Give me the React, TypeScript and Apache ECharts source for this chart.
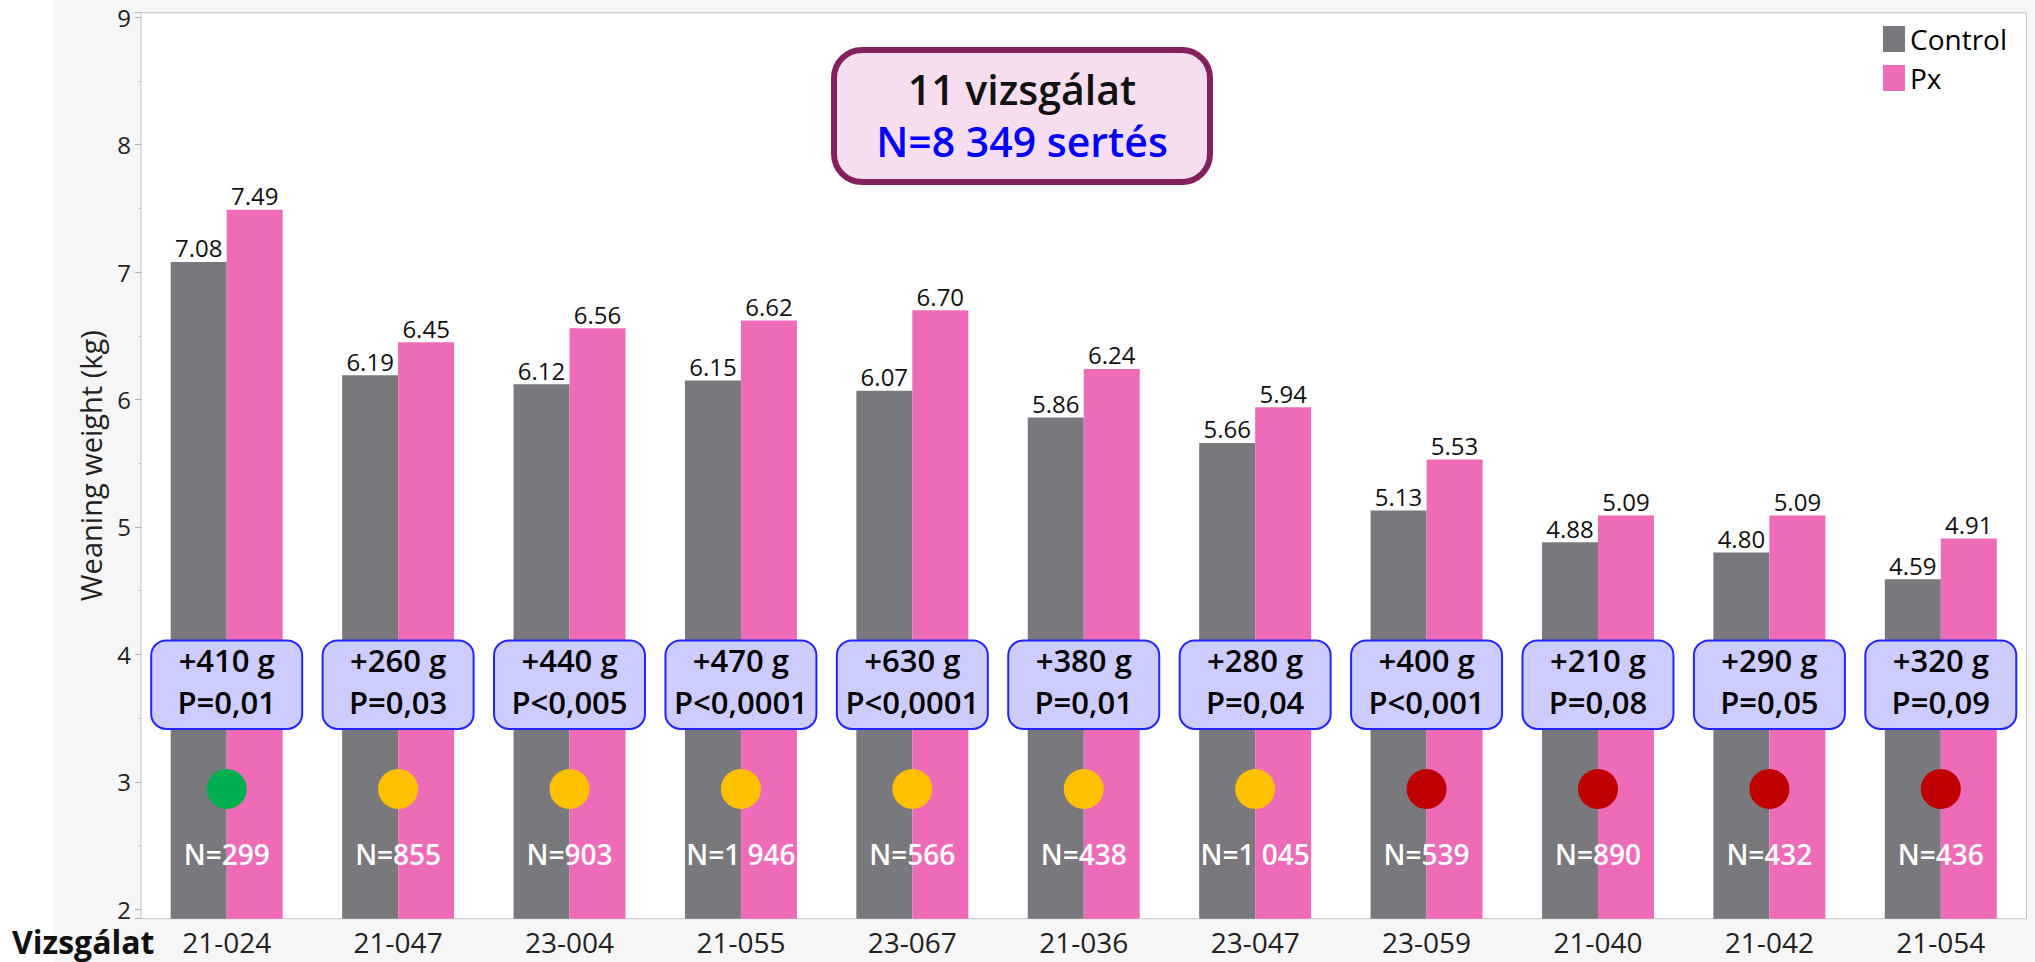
import React, { useEffect, useRef } from 'react';
import * as echarts from 'echarts';

const categories = ['21-024', '21-047', '23-004', '21-055', '23-067', '21-036', '23-047', '23-059', '21-040', '21-042', '21-054'];
const controlValues = [7.08, 6.19, 6.12, 6.15, 6.07, 5.86, 5.66, 5.13, 4.88, 4.80, 4.59];
const pxValues = [7.49, 6.45, 6.56, 6.62, 6.70, 6.24, 5.94, 5.53, 5.09, 5.09, 4.91];
const gainLabels = ['+410 g', '+260 g', '+440 g', '+470 g', '+630 g', '+380 g', '+280 g', '+400 g', '+210 g', '+290 g', '+320 g'];
const pLabels = ['P=0,01', 'P=0,03', 'P<0,005', 'P<0,0001', 'P<0,0001', 'P=0,01', 'P=0,04', 'P<0,001', 'P=0,08', 'P=0,05', 'P=0,09'];
const GREEN = '#00b050';
const AMBER = '#ffc000';
const RED = '#c00000';
const dotColors = [GREEN, AMBER, AMBER, AMBER, AMBER, AMBER, AMBER, RED, RED, RED, RED];
const nLabels = ['N=299', 'N=855', 'N=903', 'N=1 946', 'N=566', 'N=438', 'N=1 045', 'N=539', 'N=890', 'N=432', 'N=436'];
const seriesNames = ['Control', 'Px'];
const summaryLines = ['11 vizsgálat', 'N=8 349 sertés'];
const yAxisTitle = 'Weaning weight (kg)';
const xAxisTitle = 'Vizsgálat';

// layout constants (value space)
const Y_MIN = 1.926;
const Y_MAX = 9.036;
const BOX_TOP = 4.11;
const BOX_BOTTOM = 3.415;
const DOT_Y = 2.944;
const N_Y = 2.43;

const FONT = '"Open Sans", "Noto Sans", sans-serif';

export default function App() {
  const ref = useRef<HTMLDivElement>(null);
  useEffect(() => {
    const chart = echarts.init(ref.current as HTMLDivElement, null, { renderer: 'svg' });
    const valueLabel = {
      show: true,
      position: 'top',
      distance: 2,
      fontSize: 24,
      color: '#111',
      fontFamily: FONT,
      formatter: (p: any) => Number(p.value).toFixed(2),
    };
    const option: any = {
      animation: false,
      backgroundColor: '#f6f6f6',
      textStyle: { fontFamily: FONT },
      grid: {
        left: 141,
        right: 8.5,
        top: 12.7,
        bottom: 43.3,
        show: true,
        backgroundColor: '#ffffff',
        borderColor: '#c4c4c4',
        borderWidth: 1,
      },
      legend: {
        data: seriesNames,
        orient: 'vertical',
        left: 1878,
        top: 20,
        icon: 'rect',
        itemWidth: 22,
        itemHeight: 26,
        itemGap: 11,
        textStyle: { fontSize: 28, color: '#000', fontFamily: FONT },
      },
      xAxis: {
        type: 'category',
        data: categories,
        axisLine: { show: false },
        axisTick: { show: false },
        axisLabel: { fontSize: 28, color: '#222', margin: 9, fontFamily: FONT },
      },
      yAxis: {
        type: 'value',
        min: Y_MIN,
        max: Y_MAX,
        splitNumber: 7,
        name: yAxisTitle,
        nameLocation: 'middle',
        nameRotate: 90,
        nameGap: 36,
        nameTextStyle: { fontSize: 29, color: '#222', fontFamily: FONT },
        axisLine: { show: false },
        axisTick: { show: true, length: 6, lineStyle: { color: '#b4b4b4' } },
        minorTick: { show: true, splitNumber: 2, length: 3, lineStyle: { color: '#c8c8c8' } },
        splitLine: { show: false },
        axisLabel: {
          fontSize: 24,
          color: '#222',
          margin: 10,
          fontFamily: FONT,
          formatter: (v: number) => (Math.abs(v - Math.round(v)) < 1e-6 ? String(Math.round(v)) : ''),
        },
      },
      series: [
        {
          name: seriesNames[0],
          type: 'bar',
          data: controlValues,
          barWidth: 56,
          barGap: '0%',
          itemStyle: { color: '#79787c' },
          label: valueLabel,
        },
        {
          name: seriesNames[1],
          type: 'bar',
          data: pxValues,
          barWidth: 56,
          barGap: '0%',
          itemStyle: { color: '#ee6cb7' },
          label: valueLabel,
        },
        {
          name: 'annotations',
          type: 'custom',
          z: 10,
          encode: { x: 0, y: 1 },
          data: categories.map((_, i) => [i, (BOX_TOP + BOX_BOTTOM) / 2]),
          renderItem: (params: any, api: any) => {
            const i = api.value(0);
            const top = api.coord([i, BOX_TOP]);
            const bot = api.coord([i, BOX_BOTTOM]);
            const dot = api.coord([i, DOT_Y]);
            const np = api.coord([i, N_Y]);
            const cx = top[0];
            const w = 151;
            return {
              type: 'group',
              children: [
                {
                  type: 'rect',
                  shape: { x: cx - w / 2, y: top[1], width: w, height: bot[1] - top[1], r: 15 },
                  style: { fill: '#ccccff', stroke: '#2424ff', lineWidth: 2 },
                },
                {
                  type: 'text',
                  style: {
                    text: gainLabels[i] + '\n' + pLabels[i],
                    x: cx,
                    y: (top[1] + bot[1]) / 2 - 4,
                    align: 'center',
                    verticalAlign: 'middle',
                    fontSize: 31,
                    fontWeight: 600,
                    fontFamily: FONT,
                    lineHeight: 42,
                    fill: '#000',
                  },
                },
                {
                  type: 'circle',
                  shape: { cx: cx, cy: dot[1], r: 20 },
                  style: { fill: dotColors[i] },
                },
                {
                  type: 'text',
                  style: {
                    text: nLabels[i],
                    x: cx,
                    y: np[1],
                    align: 'center',
                    verticalAlign: 'middle',
                    fontSize: 28,
                    fontWeight: 600,
                    fontFamily: FONT,
                    fill: '#ffffff',
                  },
                },
              ],
            };
          },
        },
      ],
      graphic: [
        {
          type: 'rect',
          left: 0,
          top: 0,
          z: -1,
          shape: { x: 0, y: 0, width: 54, height: 962 },
          style: { fill: '#ffffff' },
        },
        {
          type: 'text',
          left: 12,
          bottom: 5,
          z: 20,
          style: { text: xAxisTitle, fontSize: 32, fontWeight: 'bold', fontFamily: FONT, fill: '#111' },
        },
        {
          type: 'group',
          left: 831,
          top: 47,
          z: 20,
          children: [
            {
              type: 'rect',
              shape: { x: 3, y: 3, width: 376, height: 132, r: 28 },
              style: { fill: '#f6def0', stroke: '#85205f', lineWidth: 6 },
            },
            {
              type: 'text',
              style: {
                text: summaryLines[0],
                x: 191,
                y: 42,
                align: 'center',
                verticalAlign: 'middle',
                fontSize: 41,
                fontWeight: 600,
                fontFamily: FONT,
                fill: '#111',
              },
            },
            {
              type: 'text',
              style: {
                text: summaryLines[1],
                x: 191,
                y: 94,
                align: 'center',
                verticalAlign: 'middle',
                fontSize: 41,
                fontWeight: 600,
                fontFamily: FONT,
                fill: '#0000ff',
              },
            },
          ],
        },
      ],
    };
    chart.setOption(option);
    return () => chart.dispose();
  }, []);
  return <div ref={ref} style={{ position: 'absolute', left: 0, top: 0, width: 2035, height: 962 }} />;
}
